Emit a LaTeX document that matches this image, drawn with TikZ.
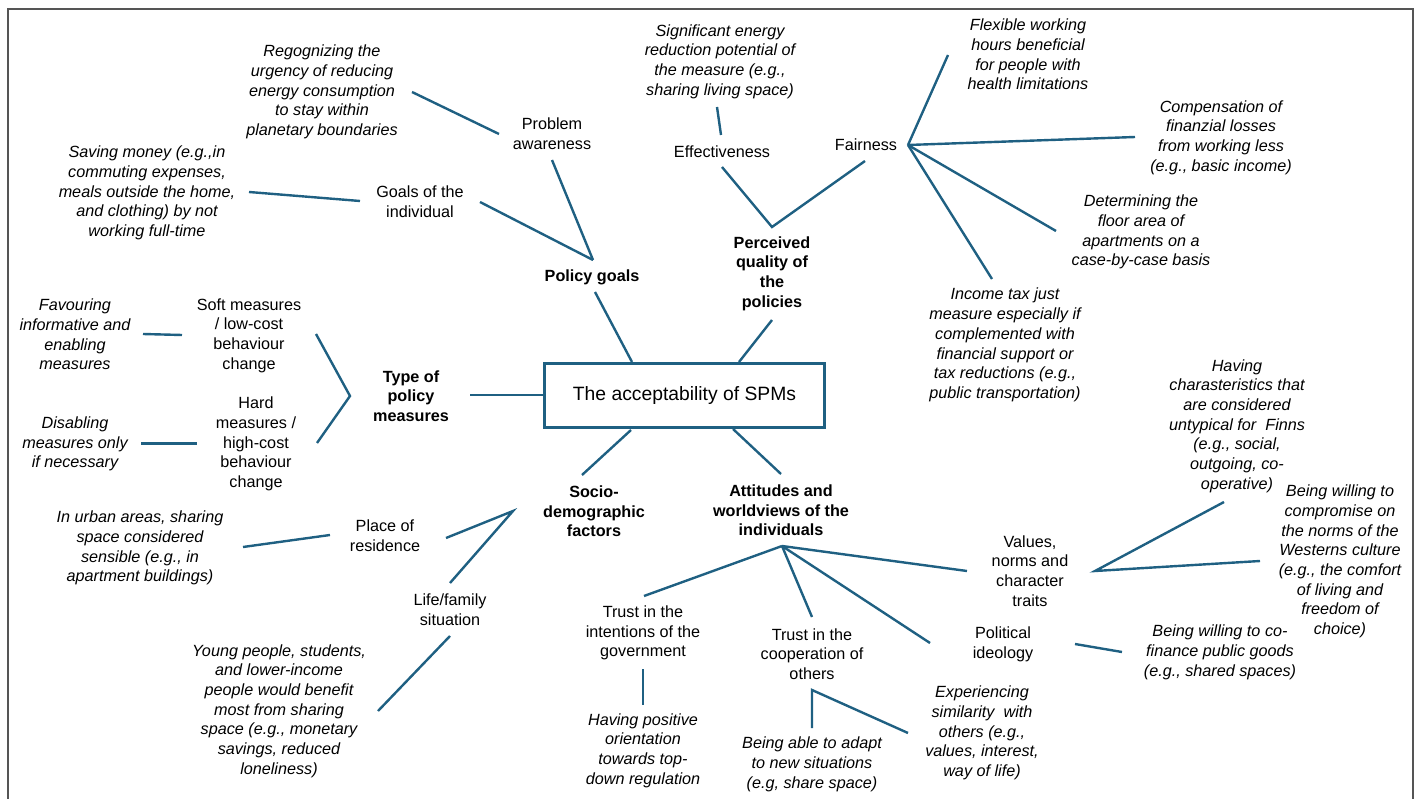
\documentclass[tikz,border=0pt]{standalone}
\usepackage{fontspec}
\setmainfont{Liberation Sans}
\definecolor{linkblue}{RGB}{31,96,130}
\definecolor{framegray}{RGB}{85,85,85}
\begin{document}
\begin{tikzpicture}[x=1pt,y=-1pt,
  txt/.style={inner sep=0pt,align=center,font=\fontsize{16.2}{19.7}\selectfont},
  leaf/.style={txt,font=\fontsize{16.2}{19.7}\selectfont\itshape},
  hdr/.style={txt,font=\fontsize{16.2}{19.7}\selectfont\bfseries},
  link/.style={draw=linkblue,line width=2.4pt},
  mainbox/.style={draw=linkblue,line width=3.6pt,minimum width=280pt,minimum height=64pt,inner sep=0pt,font=\fontsize{19.3}{23}\selectfont}]
\useasboundingbox (0,0) rectangle (1418,799);
\draw[framegray,line width=1.6pt] (8,805) -- (8,9) -- (1413,9) -- (1413,805);

% main box
\node[mainbox] (main) at (684.5,395.5) {The acceptability of SPMs};

% policy goals branch
\node[leaf] (recog) at (322,92) {Regognizing the\\urgency of reducing\\energy consumption\\to stay within\\planetary boundaries};
\node[txt] (probl) at (552,134) {Problem\\awareness};
\node[leaf] (saving) at (147,193) {Saving money (e.g.,in\\commuting expenses,\\meals outside the home,\\and clothing) by not\\working full-time};
\node[txt] (goals) at (420,201.5) {Goals of the\\individual};
\node[hdr] (polgoals) at (592,277) {Policy goals};

% perceived quality branch
\node[leaf] (signif) at (720,61.5) {Significant energy\\reduction potential of\\the measure (e.g.,\\sharing living space)};
\node[txt] (effect) at (722,152) {Effectiveness};
\node[txt] (fair) at (866,145) {Fairness};
\node[hdr] (perc) at (772,273.5) {Perceived\\quality of\\the\\policies};
\node[leaf] (flex) at (1028,54.5) {Flexible working\\hours beneficial\\for people with\\health limitations};
\node[leaf] (comp) at (1221,137.5) {Compensation of\\finanzial losses\\from working less\\(e.g., basic income)};
\node[leaf] (floor) at (1141,232) {Determining the\\floor area of\\apartments on a\\case-by-case basis};
\node[leaf] (income) at (1005,345) {Income tax just\\measure especially if\\complemented with\\financial support or\\tax reductions (e.g.,\\public transportation)};

% type of policy measures branch
\node[hdr] (type) at (411,396) {Type of\\policy\\measures};
\node[txt] (soft) at (249,335.5) {Soft measures\\/ low-cost\\behaviour\\change};
\node[leaf] (favour) at (75,334.5) {Favouring\\informative and\\enabling\\measures};
\node[txt] (hard) at (256,444) {Hard\\measures /\\high-cost\\behaviour\\change};
\node[leaf] (disab) at (75,444) {Disabling\\measures only\\if necessary};

% socio-demographic branch
\node[hdr] (socio) at (594,511.5) {Socio-\\demographic\\factors};
\node[txt] (place) at (385,536) {Place of\\residence};
\node[leaf] (urban) at (140,548) {In urban areas, sharing\\space considered\\sensible (e.g., in\\apartment buildings)};
\node[txt] (life) at (450,610) {Life/family\\situation};
\node[leaf] (young) at (279,711) {Young people, students,\\and lower-income\\people would benefit\\most from sharing\\space (e.g., monetary\\savings, reduced\\loneliness)};

% attitudes branch
\node[hdr] (attit) at (781,510.5) {Attitudes and\\worldviews of the\\individuals};
\node[txt] (trustgov) at (643,633) {Trust in the\\intentions of the\\government};
\node[leaf] (posit) at (643,750.5) {Having positive\\orientation\\towards top-\\down regulation};
\node[txt] (trustcoop) at (812,654) {Trust in the\\cooperation of\\others};
\node[leaf] (adapt) at (812,764.5) {Being able to adapt\\to new situations\\(e.g, share space)};
\node[leaf] (simil) at (982,733) {Experiencing\\similarity~ with\\others (e.g.,\\values, interest,\\way of life)};
\node[txt] (polit) at (1003,644) {Political\\ideology};
\node[txt] (values) at (1030,571) {Values,\\norms and\\character\\traits};
\node[leaf] (charac) at (1237,426) {Having\\charasteristics that\\are considered\\untypical for~ Finns\\(e.g., social,\\outgoing, co-\\operative)};
\node[leaf] (compr) at (1340,561.5) {Being willing to\\compromise on\\the norms of the\\Westerns culture\\(e.g., the comfort\\of living and\\freedom of\\choice)};
\node[leaf] (cofin) at (1220,652.5) {Being willing to co-\\finance public goods\\(e.g., shared spaces)};

% connector end points
\coordinate (recogE) at (412,92);
\coordinate (problW) at (499,134);
\coordinate (problS) at (552,160);
\coordinate (pgN) at (593,260);
\coordinate (goalsE) at (480,202);
\coordinate (savingE) at (249,192);
\coordinate (goalsW) at (360,201);
\coordinate (pgS) at (595,292);
\coordinate (mainPG) at (632,362);
\coordinate (signifS) at (717,107);
\coordinate (effectN) at (721,135);
\coordinate (effectS) at (722,167);
\coordinate (percN) at (772,227);
\coordinate (fairS) at (865,161);
\coordinate (percS) at (772,320);
\coordinate (mainPQ) at (739,362);
\coordinate (fairHub) at (908,145);
\coordinate (flexS) at (948,55);
\coordinate (compW) at (1135,137);
\coordinate (floorW) at (1056,231);
\coordinate (incomeN) at (992,279);
\coordinate (typeE) at (470,395);
\coordinate (mainW) at (543,395);
\coordinate (typeHub) at (350,396);
\coordinate (softE) at (316,334);
\coordinate (hardE) at (317,443);
\coordinate (favourE) at (143,334);
\coordinate (softW) at (182,335);
\coordinate (disabE) at (141,443);
\coordinate (hardW) at (197,443);
\coordinate (mainSD) at (631,430);
\coordinate (socioN) at (582,475);
\coordinate (mainAT) at (733,429);
\coordinate (attitN) at (781,474);
\coordinate (socioHub) at (513,511);
\coordinate (placeE) at (446,538);
\coordinate (lifeN) at (450,583);
\coordinate (placeW) at (330,535);
\coordinate (urbanE) at (243,547);
\coordinate (lifeS) at (450,636);
\coordinate (youngE) at (378,711);
\coordinate (attHub) at (782,546);
\coordinate (trustgovN) at (644,596);
\coordinate (trustcoopN) at (812,617);
\coordinate (politW) at (930,643);
\coordinate (valuesW) at (967,571);
\coordinate (trustgovS) at (643,669);
\coordinate (positN) at (643,705);
\coordinate (trustcoopS) at (812,690);
\coordinate (adaptN) at (812,728);
\coordinate (similW) at (908,733);
\coordinate (politE) at (1075,644);
\coordinate (cofinW) at (1122,652);
\coordinate (valuesHub) at (1095,571);
\coordinate (characS) at (1224,502);
\coordinate (comprW) at (1260,561);

% connectors
\draw[link] (recogE) -- (problW);
\draw[link] (problS) -- (pgN);
\draw[link] (goalsE) -- (pgN);
\draw[link] (savingE) -- (goalsW);
\draw[link] (pgS) -- (mainPG);
\draw[link] (signifS) -- (effectN);
\draw[link] (effectS) -- (percN) -- (fairS);
\draw[link] (percS) -- (mainPQ);
\draw[link] (fairHub) -- (flexS);
\draw[link] (fairHub) -- (compW);
\draw[link] (fairHub) -- (floorW);
\draw[link] (fairHub) -- (incomeN);
\draw[link] (typeE) -- (mainW);
\draw[link] (softE) -- (typeHub) -- (hardE);
\draw[link] (favourE) -- (softW);
\draw[link,line width=3pt] (disabE) -- (hardW);
\draw[link] (mainSD) -- (socioN);
\draw[link] (mainAT) -- (attitN);
\draw[link] (placeE) -- (socioHub) -- (lifeN);
\draw[link] (placeW) -- (urbanE);
\draw[link] (lifeS) -- (youngE);
\draw[link] (attHub) -- (trustgovN);
\draw[link] (attHub) -- (trustcoopN);
\draw[link] (attHub) -- (politW);
\draw[link] (attHub) -- (valuesW);
\draw[link] (trustgovS) -- (positN);
\draw[link] (adaptN) -- (trustcoopS) -- (similW);
\draw[link] (politE) -- (cofinW);
\draw[link] (characS) -- (valuesHub) -- (comprW);
\end{tikzpicture}
\end{document}
